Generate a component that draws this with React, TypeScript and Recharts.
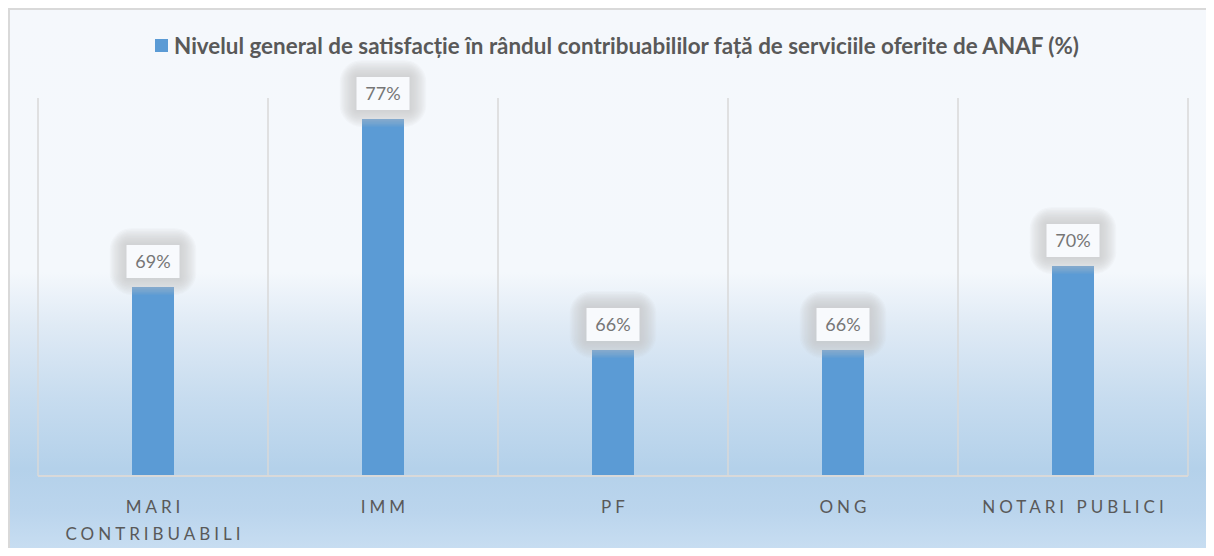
import { BarChart, Bar, XAxis, YAxis, CartesianGrid } from 'recharts';

const CATEGORIES = ['MARI CONTRIBUABILI', 'IMM', 'PF', 'ONG', 'NOTARI PUBLICI'];
const SATISFACTION = [69, 77, 66, 66, 70];
const SERIES_NAME =
  'Nivelul general de satisfacție în rândul contribuabililor față de serviciile oferite de ANAF (%)';

const BAR_COLOR = '#5b9bd5';
const GRID_COLOR = '#d9d9d9';
const FONT = 'Lato, "Open Sans", sans-serif';

const data = CATEGORIES.map((name, i) => ({ name, value: SATISFACTION[i] }));

function splitLabel(text: string): string[] {
  if (text.length <= 14) return [text];
  return text.split(' ');
}

function CategoryTick({ x, y, payload }: { x?: number; y?: number; payload?: { value: string } }) {
  const lines = splitLabel(payload?.value ?? '');
  return (
    <g transform={`translate(${x},${y})`}>
      {lines.map((line, i) => (
        <text
          key={line}
          x={2}
          y={29 + i * 27}
          textAnchor="middle"
          fill="#595959"
          fontSize={17}
          fontFamily={FONT}
          style={{ letterSpacing: '4px' }}
        >
          {line}
        </text>
      ))}
    </g>
  );
}

const GLOW_STEPS = [1, 2, 3, 4, 5, 6, 7, 8, 9, 10, 11, 12];

// label box with a soft grey glow (stacked translucent rounded rects)
function ValueLabel(props: { x?: number; y?: number; width?: number; value?: number }) {
  const { x = 0, y = 0, width = 0, value } = props;
  const cx = x + width / 2;
  const w = 53;
  const h = 33;
  const top = y - 9 - h;
  return (
    <g>
      {GLOW_STEPS.map((s) => {
        const pad = s * 1.4;
        return (
          <rect
            key={s}
            x={cx - w / 2 - pad}
            y={top - pad}
            width={w + pad * 2}
            height={h + pad * 2}
            rx={pad * 1.3}
            fill="#c4c4c4"
            opacity={0.085}
          />
        );
      })}
      <rect x={cx - w / 2} y={top} width={w} height={h} fill="#f8fafd" />
      <text
        x={cx}
        y={top + h / 2}
        dy="0.36em"
        textAnchor="middle"
        fill="#767676"
        fontSize={18}
        fontFamily={FONT}
      >
        {value}%
      </text>
    </g>
  );
}

export default function App() {
  return (
    <div
      style={{
        position: 'relative',
        width: 1206,
        height: 548,
        marginBottom: -8,
        boxSizing: 'border-box',
        borderTop: `2px solid ${GRID_COLOR}`,
        borderLeft: `2px solid ${GRID_COLOR}`,
        background:
          'linear-gradient(to bottom, #f5f8fc 0%, #f4f8fc 48%, #dfeaf5 58%, #c7dcef 71%, #b4d1ea 84%, #bbd5ed 92%, #cadff2 100%)',
        overflow: 'hidden',
      }}
    >
      <div
        style={{
          position: 'absolute',
          top: 23,
          left: 0,
          width: 1214,
          height: 24,
          display: 'flex',
          alignItems: 'center',
          justifyContent: 'center',
          fontFamily: FONT,
          fontWeight: 700,
          fontSize: 22.4,
          color: '#595959',
        }}
      >
        <span style={{ width: 13, height: 13, background: BAR_COLOR, marginRight: 6, display: 'inline-block' }} />
        <span>{SERIES_NAME}</span>
      </div>
      <BarChart
        width={1204}
        height={546}
        data={data}
        margin={{ top: 88, right: 26, bottom: 20, left: 28 }}
        barSize={42}
      >
        <CartesianGrid
          horizontal={false}
          stroke={GRID_COLOR}
          strokeWidth={1.5}
          verticalCoordinatesGenerator={({ offset }: any) =>
            Array.from({ length: CATEGORIES.length + 1 }, (_, i) => offset.left + (i * offset.width) / CATEGORIES.length)
          }
        />
        <XAxis
          dataKey="name"
          height={60}
          interval={0}
          tickLine={false}
          axisLine={{ stroke: GRID_COLOR, strokeWidth: 2 }}
          tick={<CategoryTick />}
        />
        <YAxis hide domain={[60, 78]} />
        <Bar dataKey="value" fill={BAR_COLOR} isAnimationActive={false} label={<ValueLabel />} />
      </BarChart>
    </div>
  );
}
